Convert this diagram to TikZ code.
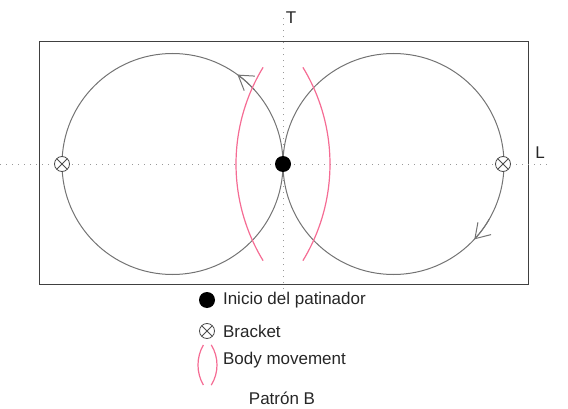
\documentclass[tikz,border=0pt]{standalone}
\usepackage{fontspec}
\setmainfont{Liberation Sans}
\usetikzlibrary{arrows.meta}
\definecolor{bodypink}{RGB}{245,108,148}

\begin{document}
\begin{tikzpicture}[x=0.5pt, y=0.5pt,
    axis line/.style={gray!80, line width=0.5pt, dash pattern=on 0.6pt off 2.4pt},
    rink edge/.style={black!75, line width=0.5pt},
    path circle/.style={black!55, line width=0.5pt},
    body arc/.style={bodypink, line width=0.6pt},
    start dot/.style={circle, fill=black, inner sep=0pt, minimum size=8pt},
    bracket mark/.style={circle, draw=black!70, fill=white, line width=0.4pt, inner sep=0pt, minimum size=7.5pt,
        path picture={\draw[black!70, line width=0.4pt]
            (path picture bounding box.north west) -- (path picture bounding box.south east)
            (path picture bounding box.south west) -- (path picture bounding box.north east);}},
    turn tip/.style={path circle, -{Straight Barb[length=7pt, width=9pt]}},
    label text/.style={font=\fontsize{8.5}{10}\selectfont, text=black!85}
]
\useasboundingbox (0,0) rectangle (568,408);

% 1. Pista y ejes
\draw[rink edge] (39,124) rectangle (528,366);
\draw[axis line] (0,244) -- (550,244);
\draw[axis line] (283,113) -- (283,393);
\node[label text] (axisT) at (291,390) {T};
\node[label text] (axisL) at (540,255) {L};

% 2. Circulos del patron
\coordinate (Lc) at (172.5,244);
\coordinate (Rc) at (393.5,244);
\draw[path circle] (Lc) circle (110.5);
\draw[path circle] (Rc) circle (110.5);
\draw[turn tip] (Lc) ++(42:110.5) arc (42:54:110.5);
\draw[turn tip] (Rc) ++(-30:110.5) arc (-30:-43:110.5);

% 3. Movimiento del cuerpo
\draw[body arc] (422,244) ++(148.7:186) arc (148.7:211.3:186);
\draw[body arc] (144,244) ++(-31.3:186) arc (-31.3:31.3:186);

% 4. Brackets e inicio
\node[bracket mark] (bracketL) at (62,244) {};
\node[bracket mark] (bracketR) at (503,244) {};
\node[start dot] (start) at (283,244) {};

% 5. Leyenda
\node[start dot] (legDot) at (207,108) {};
\node[label text, anchor=west] (legDotText) at (216,108) {Inicio del patinador};
\node[bracket mark] (legBracket) at (207,77) {};
\node[label text, anchor=west] (legBracketText) at (216,77) {Bracket};
\draw[body arc] (238,43) ++(150:40) arc (150:210:40);
\draw[body arc] (179,43) ++(-32:38) arc (-32:32:38);
\node[label text, anchor=west] (legBodyText) at (216,48) {Body movement};
\node[label text] (title) at (282,10) {Patrón B};

\end{tikzpicture}
\end{document}
